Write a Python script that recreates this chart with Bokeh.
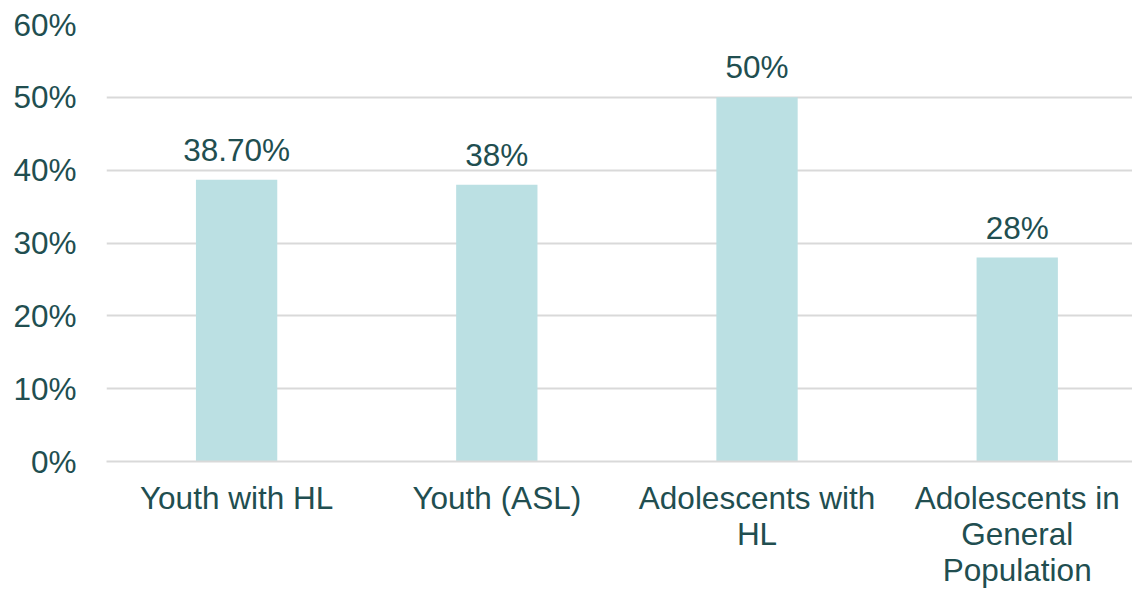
from bokeh.plotting import figure
from bokeh.models import ColumnDataSource, LabelSet, NumeralTickFormatter, FixedTicker, Range1d
from bokeh.core.properties import value
from bokeh.embed import file_html
from bokeh.resources import INLINE

categories = ["Youth with HL", "Youth (ASL)", "Adolescents with\nHL", "Adolescents in\nGeneral\nPopulation"]
values = [0.387, 0.38, 0.50, 0.28]
value_labels = ["38.70%", "38%", "50%", "28%"]
y_ticks = [0, 0.1, 0.2, 0.3, 0.4, 0.5, 0.6]

TEXT = "#214E50"
BAR = "#BBE0E3"
GRID = "#D9D9D9"
FONT = "Liberation Sans"
FS = "31.5px"

xs = list(range(len(categories)))
src = ColumnDataSource(dict(x=xs, top=values, lab=value_labels))

p = figure(width=1132, height=590, output_backend="svg", toolbar_location=None,
           x_range=Range1d(-0.5, 3.443), y_range=Range1d(0, 0.6),
           min_border_left=106, min_border_right=0, min_border_top=24, min_border_bottom=128)
p.outline_line_color = None
p.background_fill_color = "white"
p.border_fill_color = "white"

p.vbar(x="x", top="top", width=0.3125, bottom=0, source=src, fill_color=BAR, line_color=None)

labels = LabelSet(x="x", y="top", text="lab", source=src, y_offset=19,
                  text_align="center", text_baseline="alphabetic",
                  text_font=value(FONT), text_font_size=value(FS), text_color=value(TEXT))
p.add_layout(labels)

# y axis
p.yaxis.ticker = FixedTicker(ticks=y_ticks)
p.yaxis.formatter = NumeralTickFormatter(format="0%")
p.yaxis.axis_line_color = None
p.yaxis.major_tick_line_color = None
p.yaxis.minor_tick_line_color = None
p.yaxis.major_label_standoff = 24
p.yaxis.major_label_text_font = FONT
p.yaxis.major_label_text_font_size = FS
p.yaxis.major_label_text_color = TEXT

# x axis
p.xaxis.ticker = FixedTicker(ticks=xs)
p.xaxis.major_label_overrides = {i: c for i, c in zip(xs, categories)}
p.xaxis.axis_line_color = GRID
p.xaxis.axis_line_width = 2
p.xaxis.major_tick_line_color = None
p.xaxis.minor_tick_line_color = None
p.xaxis.major_label_standoff = 12
p.xaxis.major_label_text_font = FONT
p.xaxis.major_label_text_font_size = FS
p.xaxis.major_label_text_color = TEXT
p.xaxis.major_label_text_line_height = 1.0

p.xgrid.grid_line_color = None
p.ygrid.grid_line_color = GRID
p.ygrid.grid_line_width = 2

open("out.html", "w").write(file_html(p, INLINE))
